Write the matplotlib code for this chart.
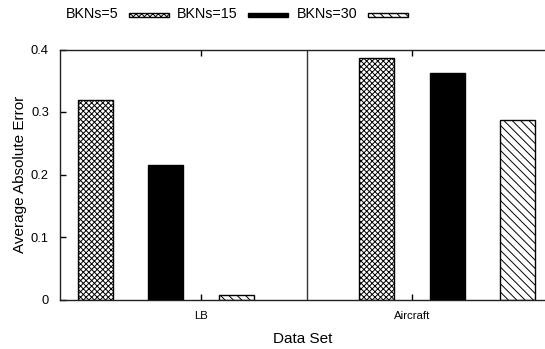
import numpy as np
import matplotlib
matplotlib.use("Agg")
import matplotlib.pyplot as plt
from matplotlib.patches import Rectangle

# data
datasets = ["LB", "Aircraft"]
series = ["BKNs=5", "BKNs=15", "BKNs=30"]
bkn5 = [0.320, 0.386]
bkn15 = [0.215, 0.362]
bkn30 = [0.008, 0.288]
yticks = [0, 0.1, 0.2, 0.3, 0.4]

plt.rcParams["font.family"] = ["Liberation Sans", "DejaVu Sans"]
plt.rcParams["hatch.linewidth"] = 0.7

W, H = 545, 349
fig = plt.figure(figsize=(W / 100, H / 100), dpi=100)
ax = fig.add_axes([60 / W, (H - 299.5) / H, 1 - 60 / W, 250 / H])

styles = [
    dict(facecolor="white", hatch="xxxxxx"),
    dict(facecolor="black", hatch=None),
    dict(facecolor="white", hatch="\\" * 4),
]
values = [bkn5, bkn15, bkn30]

# each cluster has 4 slots (3 bars + gap), bar width half a slot
for g in range(len(datasets)):
    for s in range(len(series)):
        x = g * 4 + s
        ax.bar(x, values[s][g], width=0.5, edgecolor="black", linewidth=1.0,
               **styles[s])

# separator between the two data sets
ax.axvline(3.0, color="#333333", linewidth=1.0)

ax.set_xlim(-0.505, 6.39)
ax.set_ylim(0, 0.4)
ax.set_yticks(yticks)
ax.set_yticklabels(["0", "0.1", "0.2", "0.3", "0.4"], fontsize=9.3)
ax.set_xticks([1.5, 4.5])
ax.set_xticklabels(datasets, fontsize=8.2)
ax.tick_params(axis="y", direction="in", length=4, width=1, pad=8, right=False)
ax.tick_params(axis="x", direction="in", length=4, width=1, pad=8, top=True)

for sp in ax.spines.values():
    sp.set_linewidth(1.0)
    sp.set_color("#222222")
ax.spines["right"].set_visible(False)

ax.set_ylabel("Average Absolute Error", fontsize=11, labelpad=3)
ax.set_xlabel("Data Set", fontsize=11, labelpad=8)

# legend across the top: text followed by sample box
text_x = [66, 177, 297]
box_x = [129, 248, 368]
for i, name in enumerate(series):
    fig.text(text_x[i] / W, 1 - 14 / H, name, fontsize=10.3,
             ha="left", va="center")
    st = styles[i]
    fig.patches.append(Rectangle((box_x[i] / W, 1 - 17 / H), 40 / W, 4.5 / H,
                                 transform=fig.transFigure, facecolor=st["facecolor"],
                                 hatch=st["hatch"], edgecolor="black", linewidth=1.0))

fig.savefig("out.png", dpi=100)
